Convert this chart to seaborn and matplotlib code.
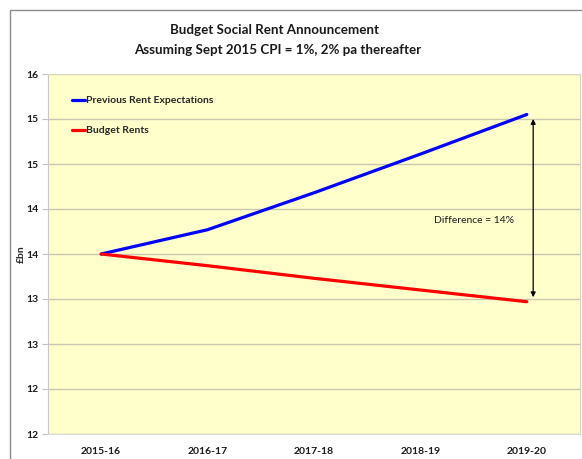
import matplotlib
matplotlib.use("Agg")
import matplotlib.pyplot as plt
import matplotlib.ticker as mticker
from matplotlib.patches import Rectangle
import pandas as pd
import seaborn as sns

years = ["2015-16", "2016-17", "2017-18", "2018-19", "2019-20"]
previous_rents = [13.5, 13.77, 14.18, 14.61, 15.05]
budget_rents = [13.5, 13.37, 13.23, 13.10, 12.97]
y_ticks = [11.5, 12.0, 12.5, 13.0, 13.5, 14.0, 14.5, 15.0, 15.5]
diff_label = "Difference = 14%"

df = pd.DataFrame({
    "year": years * 2,
    "pos": list(range(len(years))) * 2,
    "value": previous_rents + budget_rents,
    "series": ["Previous Rent Expectations"] * len(years) + ["Budget Rents"] * len(years),
})

sns.set_style("white")
plt.rcParams["font.family"] = ["Lato", "DejaVu Sans"]

fig = plt.figure(figsize=(5.82, 4.59), dpi=100)
fig.patches.append(Rectangle((10 / 582, -0.1), 1.2, (459 - 10) / 459 + 0.1,
                             transform=fig.transFigure, facecolor="none",
                             edgecolor="#8c8c8c", linewidth=1.0))
ax = fig.add_axes([48 / 582, 25 / 459, 532 / 582, 360 / 459])
ax.set_facecolor("#ffffcc")

sns.lineplot(data=df, x="pos", y="value", hue="series",
             palette={"Previous Rent Expectations": "#0000ff", "Budget Rents": "#ff0000"},
             linewidth=2.3, ax=ax)

ax.set_xlim(-0.5, 4.5)
ax.set_ylim(11.5, 15.5)
ax.set_yticks(y_ticks)
ax.yaxis.set_major_formatter(mticker.FuncFormatter(lambda v, p: f"{int(v + 0.5)}"))
ax.set_xticks(range(len(years)))
ax.set_xticklabels(years)
ax.set_xticks([0.5, 1.5, 2.5, 3.5], minor=True)
ax.tick_params(axis="x", which="major", length=0, pad=9)
ax.tick_params(axis="x", which="minor", length=5, color="#d0d0d0", width=1)
ax.tick_params(axis="y", length=4, color="#c0c0c0", pad=3, direction="out", left=True)
for lab in ax.get_xticklabels() + ax.get_yticklabels():
    lab.set_fontsize(7.5)
    lab.set_fontweight("bold")
    lab.set_color("#1a1a1a")

ax.grid(axis="y", color="#c8c8b0", linewidth=1.0)
ax.set_axisbelow(True)
for s in ["top", "right"]:
    ax.spines[s].set_color("#d8d8c0")
ax.spines["left"].set_color("#c8c8c8")
ax.spines["bottom"].set_color("#d8d8d8")

ax.set_xlabel("")
ax.set_ylabel("£bn", fontsize=7.5, fontweight="bold", labelpad=0)

leg = ax.legend(loc="upper left", frameon=False, fontsize=7.5, handlelength=1.2,
                handletextpad=0.15, labelspacing=2.0, bbox_to_anchor=(0.028, 0.965))
for t in leg.get_texts():
    t.set_fontweight("bold")

ax.annotate("", xy=(4.06, 15.0), xytext=(4.06, 13.02),
            arrowprops=dict(arrowstyle="<|-|>", color="black", lw=0.9,
                            mutation_scale=7, shrinkA=0, shrinkB=0))
ax.text(3.5, 13.87, diff_label, fontsize=7.5, ha="center", va="center", color="#1a1a1a")

fig.text(0.472, 0.934, "Budget Social Rent Announcement", ha="center", va="center",
         fontsize=9.6, fontweight="bold", color="#1a1a1a")
fig.text(0.478, 0.891, "Assuming Sept 2015 CPI = 1%, 2% pa thereafter", ha="center",
         va="center", fontsize=9.6, fontweight="bold", color="#1a1a1a")

fig.savefig("out.png", dpi=100)
